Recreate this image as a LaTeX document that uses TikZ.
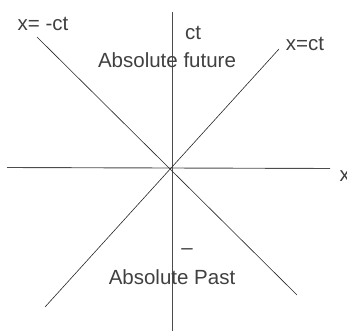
\documentclass[tikz,border=0pt]{standalone}
\usepackage{fontspec}
\setmainfont{Liberation Sans}
\begin{document}
\begin{tikzpicture}[x=1pt,y=-1pt,
  axis/.style={draw=black!70,line width=0.9pt},
  cone/.style={draw=black!85,line width=0.6pt},
  lbl/.style={text=black!75,font=\fontsize{20.5}{22}\selectfont,inner sep=0pt}]
\useasboundingbox (0,0) rectangle (347,331);
\coordinate (O) at (171.5,168);
\coordinate (vt) at (172,12);
\coordinate (vb) at (172,331);
\coordinate (hl) at (7,167.5);
\coordinate (hr) at (330,168.5);
\coordinate (d1a) at (37,37);
\coordinate (d1b) at (297,295);
\coordinate (d2a) at (279,49);
\coordinate (d2b) at (45,307);
\draw[axis] (vt) -- (vb);
\draw[axis] (hl) -- (hr);
\draw[cone] (d1a) -- (d1b);
\draw[cone] (d2a) -- (d2b);
\node[lbl] (lxm) at (43,24) {x= -ct};
\node[lbl] (lct) at (193,33) {ct};
\node[lbl] (lfut) at (167,60) {Absolute future};
\node[lbl] (lxp) at (305,44) {x=ct};
\node[lbl,anchor=west] (lx) at (339.5,176) {x};
\node[lbl] (lmin) at (187,252) {–};
\node[lbl] (lpast) at (172,277) {Absolute Past};
\end{tikzpicture}
\end{document}
